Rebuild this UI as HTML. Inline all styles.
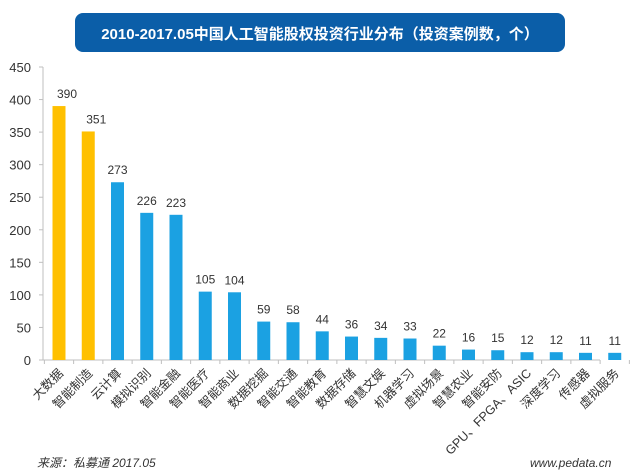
<!DOCTYPE html>
<html><head><meta charset="utf-8"><style>
body{margin:0;background:#fff;width:640px;height:471px;overflow:hidden;font-family:"Liberation Sans","Noto Sans CJK SC",sans-serif}
</style></head><body>
<svg id="chart" width="640" height="471" xmlns="http://www.w3.org/2000/svg">
<rect x="75" y="13" width="490" height="39" rx="8" fill="#0b5ea8"/>
<text x="320" y="39" text-anchor="middle" fill="#fff" font-size="15" font-weight="bold" font-family="Liberation Sans, Noto Sans CJK SC, sans-serif">2010-2017.05中国人工智能股权投资行业分布（投资案例数，个）</text>
<line x1="43" y1="67" x2="43" y2="360" stroke="#bfbfbf"/>
<line x1="43" y1="360" x2="600" y2="360" stroke="#bfbfbf"/>
<g id="bars"></g>
<text x="37" y="467" font-size="12" font-style="italic" fill="#333">来源：私募通 2017.05</text>
<text x="530" y="467" font-size="12" font-style="italic" fill="#333">www.pedata.cn</text>
</svg>
<script>
const categories=["大数据","智能制造","云计算","模拟识别","智能金融","智能医疗","智能商业","数据挖掘","智能交通","智能教育","数据存储","智慧文娱","机器学习","虚拟场景","智慧农业","智能安防","GPU、FPGA、ASIC","深度学习","传感器","虚拟服务"];
const values=[390,351,273,226,223,105,104,59,58,44,36,34,33,22,16,15,12,12,11,11];
const yTicks=[0,50,100,150,200,250,300,350,400,450];
const ns="http://www.w3.org/2000/svg";
const g=document.getElementById('bars');
const y0=360,yTop=67,maxV=450;
function yScale(v){return y0-(v/maxV)*(y0-yTop);}
const step=29.25,x0=59;
function xScale(i){return x0+i*step;}
function mk(t,a){const e=document.createElementNS(ns,t);for(const k in a)e.setAttribute(k,a[k]);g.appendChild(e);return e;}
yTicks.forEach(t=>{
  const y=yScale(t);
  const l=mk('line',{x1:39,x2:43,y1:y,y2:y,stroke:'#bfbfbf'});
  
  
  const tx=mk('text',{x:31,y:y+5,'text-anchor':'end','font-size':13,fill:'#333'});
  tx.textContent=t;
  
  
});
for(let i=0;i<=categories.length;i++){
  const x=x0-step/2+i*step;
  const l=mk('line',{x1:x,x2:x,y1:360,y2:364,stroke:'#bfbfbf'});
  
  
}
categories.forEach((c,i)=>{
  const cx=xScale(i),y=yScale(values[i]);
  const r=mk('rect',{x:cx-6.5,y:y,width:13,height:y0-y,fill:i<2?'#ffc000':'#1ba1e2'});
  
  
  const v=mk('text',{x:cx+(i<2?-2:0),y:y-8,'text-anchor':i<2?'start':'middle','font-size':12,fill:'#333'});
  v.textContent=values[i];
  
  
  const lb=mk('text',{x:cx+5,y:374,'text-anchor':'end','font-size':12.5,fill:'#333',transform:`rotate(-45 ${cx+5} 374)`});
  lb.textContent=c;
  
  
});
</script>
</body></html>
